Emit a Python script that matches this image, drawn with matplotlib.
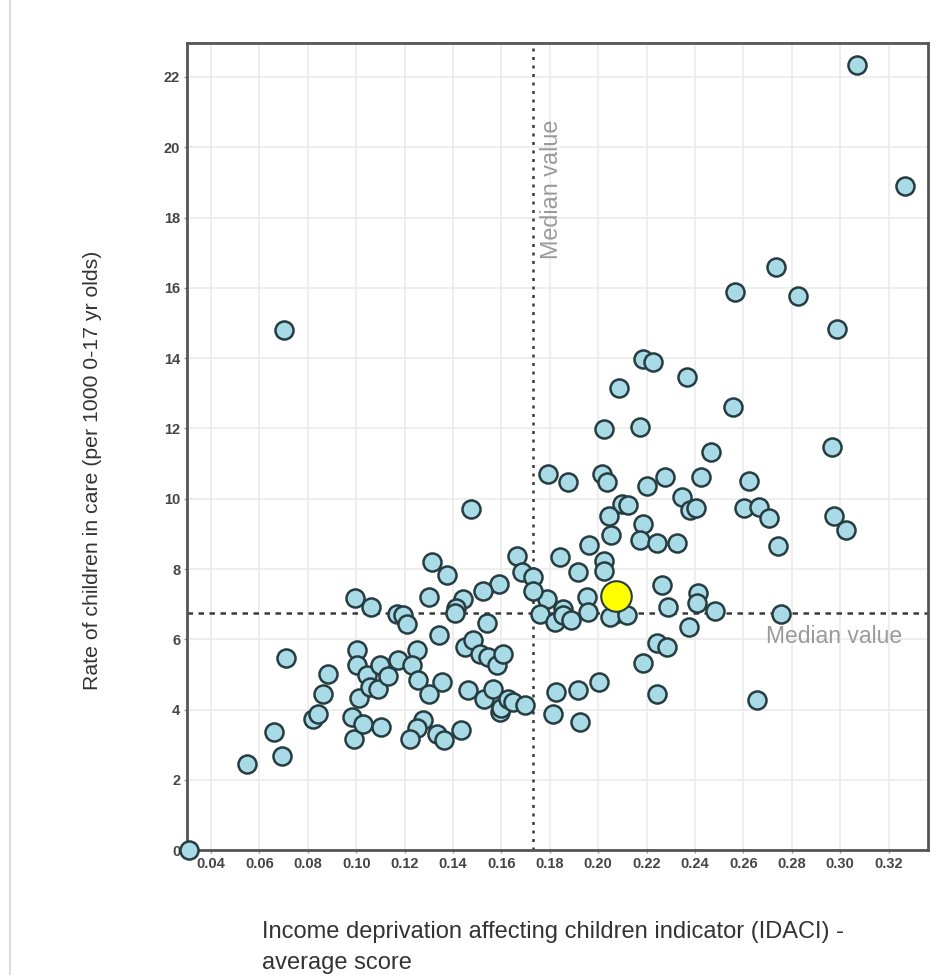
import matplotlib
matplotlib.use("Agg")
import matplotlib.pyplot as plt
from matplotlib.lines import Line2D

plt.rcParams["font.family"] = ["Liberation Sans", "DejaVu Sans"]

# ---- data ----
idaci = [
    0.307, 0.327, 0.2735, 0.2567, 0.2824, 0.2986, 0.2184, 0.2228, 0.2366, 0.2085,
    0.2556, 0.2025, 0.2173, 0.2966, 0.2466, 0.1794, 0.1874, 0.2014, 0.2035, 0.2203,
    0.2276, 0.2425, 0.2625, 0.2345, 0.2379, 0.2404, 0.2604, 0.2666, 0.2707, 0.2974,
    0.3024, 0.2744, 0.2100, 0.2124, 0.2045, 0.2184, 0.2053, 0.2173, 0.2244, 0.2324,
    0.1963, 0.1842, 0.1915, 0.2024, 0.2024, 0.2265, 0.2414, 0.2407, 0.1953, 0.1956,
    0.2287, 0.2483, 0.2069, 0.2049, 0.2118, 0.2757, 0.2375, 0.2244, 0.2286, 0.2184,
    0.2005, 0.1826, 0.1915, 0.2244, 0.2655, 0.1815, 0.1925,
    0.1787, 0.1759, 0.1821, 0.1853, 0.1853, 0.1886, 0.0702, 0.1473, 0.1312, 0.1374,
    0.1663, 0.1684, 0.1732, 0.1732, 0.1591, 0.1523, 0.1443, 0.1412, 0.1408, 0.1302,
    0.0994, 0.1060, 0.1167, 0.1195, 0.1209, 0.1542, 0.1343, 0.1450, 0.1481, 0.1511,
    0.1546, 0.1580, 0.1608, 0.1250, 0.1174, 0.1229, 0.1257, 0.1353, 0.1302, 0.1463,
    0.1530, 0.1564, 0.1594, 0.1597, 0.1629, 0.1646, 0.1698, 0.1277, 0.1250, 0.1222,
    0.1333, 0.1363, 0.1432, 0.1101,
    0.031, 0.0550, 0.0660, 0.0692, 0.0710, 0.0820, 0.0843, 0.0861, 0.0882, 0.0981,
    0.0991, 0.1029, 0.1002, 0.1005, 0.1043, 0.1013, 0.1057, 0.1091, 0.1098, 0.1133,
]
rate = [
    22.33, 18.89, 16.58, 15.88, 15.77, 14.84, 13.99, 13.89, 13.47, 13.15,
    12.61, 11.99, 12.04, 11.47, 11.33, 10.69, 10.48, 10.69, 10.48, 10.36,
    10.62, 10.62, 10.50, 10.05, 9.67, 9.74, 9.74, 9.77, 9.45, 9.51,
    9.10, 8.65, 9.84, 9.81, 9.50, 9.27, 8.98, 8.82, 8.74, 8.75,
    8.68, 8.34, 7.92, 8.23, 7.94, 7.54, 7.32, 7.04, 7.20, 6.78,
    6.92, 6.81, 6.73, 6.64, 6.69, 6.73, 6.35, 5.90, 5.78, 5.33,
    4.79, 4.50, 4.57, 4.45, 4.27, 3.87, 3.65,
    7.16, 6.73, 6.49, 6.87, 6.68, 6.54, 14.81, 9.70, 8.20, 7.82,
    8.37, 7.92, 7.77, 7.37, 7.58, 7.38, 7.15, 6.90, 6.76, 7.20,
    7.18, 6.92, 6.73, 6.69, 6.43, 6.47, 6.12, 5.78, 5.97, 5.59,
    5.50, 5.26, 5.59, 5.71, 5.42, 5.27, 4.84, 4.78, 4.44, 4.55,
    4.31, 4.59, 3.94, 4.05, 4.31, 4.22, 4.13, 3.70, 3.48, 3.15,
    3.30, 3.14, 3.43, 3.51,
    0.0, 2.45, 3.37, 2.67, 5.48, 3.74, 3.88, 4.44, 5.01, 3.79,
    3.17, 3.58, 5.69, 5.26, 4.98, 4.34, 4.64, 4.59, 5.26, 4.95,
]
highlight_x = [0.2073]
highlight_y = [7.22]
median_x = 0.1731
median_y = 6.75
x_ticks = [0.04, 0.06, 0.08, 0.10, 0.12, 0.14, 0.16, 0.18, 0.20, 0.22, 0.24, 0.26, 0.28, 0.30, 0.32]
y_ticks = [0, 2, 4, 6, 8, 10, 12, 14, 16, 18, 20, 22]

fig = plt.figure(figsize=(9.45, 9.75), dpi=100)
ax = fig.add_axes([0.198, 0.128, 0.784, 0.828])

ax.set_xlim(0.0301, 0.3363)
ax.set_ylim(0, 22.97)

ax.set_xticks(x_ticks)
ax.set_xticklabels([f"{v:.2f}" for v in x_ticks])
ax.set_yticks(y_ticks)
ax.set_yticklabels([str(v) for v in y_ticks])
ax.grid(True, color="#ebebeb", linewidth=1.2, zorder=0)
ax.set_axisbelow(True)
ax.tick_params(axis="both", length=2, width=1, color="#999999", labelsize=10.5,
               labelcolor="#454545", pad=3)
for lab in ax.get_xticklabels() + ax.get_yticklabels():
    lab.set_fontweight("bold")

for s in ax.spines.values():
    s.set_color("#555555")
    s.set_linewidth(2)

# median lines
ax.axvline(median_x, color="#3a3a3a", linestyle=(0, (1.2, 2.2)), linewidth=1.8, zorder=1)
ax.axhline(median_y, color="#3a3a3a", linestyle=(0, (2.2, 2.2)), linewidth=1.8, zorder=1)

ax.plot(idaci, rate, linestyle="none", marker="o", markersize=13,
        markerfacecolor="#a8dbe6", markeredgecolor="#263c41", markeredgewidth=1.8,
        clip_on=False, zorder=3)
ax.plot(highlight_x, highlight_y, linestyle="none", marker="o", markersize=22,
        markerfacecolor="#ffff00", markeredgecolor="#263c41", markeredgewidth=1.5,
        zorder=4)

ax.text(median_x + 0.0028, 20.8, "Median value", rotation=90, ha="left", va="top",
        color="#9a9a9a", fontsize=16.8)
ax.text(0.3255, median_y - 0.35, "Median value", ha="right", va="top",
        color="#9a9a9a", fontsize=16.5)

fig.text(0.098, 0.518, "Rate of children in care (per 1000 0-17 yr olds)", rotation=90,
         ha="center", va="center", fontsize=15.3, color="#333333")
fig.text(0.277, 0.028, "Income deprivation affecting children indicator (IDACI) -\naverage score",
         ha="left", va="center", fontsize=17, color="#333333", linespacing=1.5)

fig.add_artist(Line2D([0.011, 0.011], [0, 1], color="#dddddd", linewidth=1.5))

fig.savefig("out.png", dpi=100)
